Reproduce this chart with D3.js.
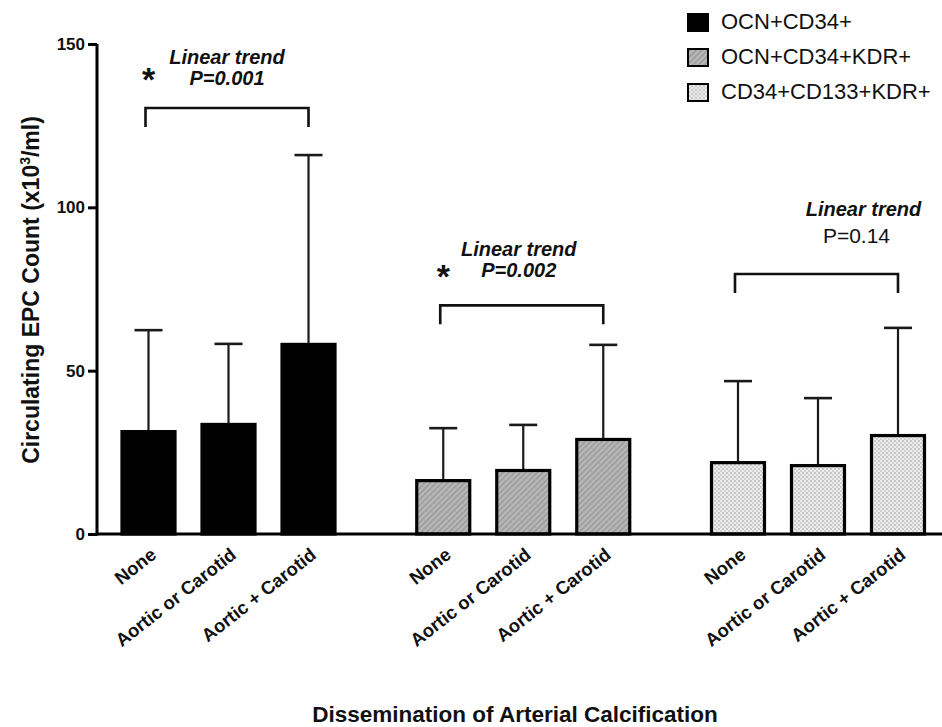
<!DOCTYPE html>
<html><head><meta charset="utf-8">
<script src="https://cdn.jsdelivr.net/npm/d3@7"></script>
<style>
body{margin:0;background:#fff;}
text{font-family:"Liberation Sans",Arial,sans-serif;}
</style></head>
<body><svg id="chart" width="942" height="727"></svg>
<script>
const groups = ["OCN+CD34+", "OCN+CD34+KDR+", "CD34+CD133+KDR+"];
const categories = ["None", "Aortic or Carotid", "Aortic + Carotid"];
const means = {
  "OCN+CD34+": [31.8, 34.0, 58.5],
  "OCN+CD34+KDR+": [16.8, 19.9, 29.4],
  "CD34+CD133+KDR+": [22.3, 21.4, 30.6]
};
const upperErr = {
  "OCN+CD34+": [62.4, 58.2, 116.0],
  "OCN+CD34+KDR+": [32.4, 33.4, 57.9],
  "CD34+CD133+KDR+": [46.8, 41.6, 63.1]
};
const yTicks = [0, 50, 100, 150];
const trendP = ["P=0.001", "P=0.002", "P=0.14"];
const trendSig = [true, true, false];
const bracketLevel = [130.4, 70.0, 79.6];

// layout (pixels) for annotation texts, separate from data
const annLayout = [
  {lt: 44, p: 23, dx: 0, pdx: 0},
  {lt: 49, p: 28, dx: -3, pdx: -3},
  {lt: 58, p: 31, dx: 47, pdx: 40}
];

const svg = d3.select("#chart");
const axisX = 97, axisY = 534, topY = 44;
const y = d3.scaleLinear().domain([0, 150]).range([axisY, topY]);
const gx = d3.scaleBand().domain(groups).range([108.5, 938]).paddingInner(0.1857).paddingOuter(0);
const cx = d3.scaleBand().domain(categories).range([0, gx.bandwidth()]).paddingInner(0.3).paddingOuter(0.15);

// patterns
const defs = svg.append("defs");
const hatch = defs.append("pattern").attr("id","hatch").attr("patternUnits","userSpaceOnUse")
  .attr("width",4).attr("height",4).attr("patternTransform","rotate(45)");
hatch.append("rect").attr("width",4).attr("height",4).attr("fill","#b8b8b8");
hatch.append("rect").attr("width",1.6).attr("height",4).attr("fill","#9a9a9a");
const dots = defs.append("pattern").attr("id","dots").attr("patternUnits","userSpaceOnUse")
  .attr("width",4).attr("height",4);
dots.append("rect").attr("width",4).attr("height",4).attr("fill","#ececec");
dots.append("circle").attr("cx",1).attr("cy",1).attr("r",0.9).attr("fill","#b5b5b5");
dots.append("circle").attr("cx",3).attr("cy",3).attr("r",0.9).attr("fill","#c4c4c4");
const fills = {"OCN+CD34+":"#000","OCN+CD34+KDR+":"url(#hatch)","CD34+CD133+KDR+":"url(#dots)"};

// bars
groups.forEach((g) => {
  const gg = svg.append("g").attr("transform", `translate(${gx(g)},0)`);
  const data = categories.map((c,i)=>({c, m: means[g][i], e: upperErr[g][i]}));
  gg.selectAll("line.err").data(data).join("line")
    .attr("x1", d=>cx(d.c)+cx.bandwidth()/2).attr("x2", d=>cx(d.c)+cx.bandwidth()/2)
    .attr("y1", d=>y(d.m)).attr("y2", d=>y(d.e)).attr("stroke","#1a1a1a").attr("stroke-width",2.2);
  gg.selectAll("line.cap").data(data).join("line")
    .attr("x1", d=>cx(d.c)+cx.bandwidth()/2-14).attr("x2", d=>cx(d.c)+cx.bandwidth()/2+14)
    .attr("y1", d=>y(d.e)).attr("y2", d=>y(d.e)).attr("stroke","#1a1a1a").attr("stroke-width",2.6);
  gg.selectAll("rect.bar").data(data).join("rect")
    .attr("x", d=>cx(d.c)+1.5).attr("width", cx.bandwidth()-3)
    .attr("y", d=>y(d.m)+1.5).attr("height", d=>y(0)-y(d.m)-1.5)
    .attr("fill", fills[g]).attr("stroke","#000").attr("stroke-width",3.2);
  gg.selectAll("text.xl").data(categories).join("text")
    .attr("transform", d=>`translate(${cx(d)+cx.bandwidth()/2+9},${axisY+23}) rotate(-38)`)
    .attr("text-anchor","end").attr("font-weight","bold").attr("font-size",18.5).attr("fill","#111")
    .text(d=>d);
});

// axes
const yAxis = d3.axisLeft(y).tickValues(yTicks).tickSize(9).tickPadding(3);
const ya = svg.append("g").attr("transform",`translate(${axisX},0)`).call(yAxis);
ya.select(".domain").attr("stroke","#000").attr("stroke-width",3).attr("d",`M0,${axisY+1.5}V${topY}`);
ya.selectAll(".tick line").attr("stroke","#000").attr("stroke-width",3);
ya.selectAll(".tick text").attr("font-size",17).attr("font-weight","bold").attr("fill","#111")
  .style("font-family","Liberation Sans, Arial, sans-serif");
svg.append("line").attr("x1",axisX-1.5).attr("x2",942).attr("y1",axisY).attr("y2",axisY)
  .attr("stroke","#000").attr("stroke-width",3);

// axis titles
svg.append("text").attr("transform",`translate(39,290) rotate(-90)`).attr("text-anchor","middle")
  .attr("font-weight","bold").attr("font-size",23).attr("fill","#111")
  .call(t=>{t.append("tspan").text("Circulating EPC Count (x10");
    t.append("tspan").attr("font-size",14).attr("dy",-9).text("3");
    t.append("tspan").attr("dy",9).text("/ml)");});
svg.append("text").attr("x",515).attr("y",722).attr("text-anchor","middle")
  .attr("font-weight","bold").attr("font-size",22.5).attr("fill","#111")
  .text("Dissemination of Arterial Calcification");

// brackets & annotations
groups.forEach((g,i)=>{
  const x1 = gx(g)+cx(categories[0])+cx.bandwidth()/2 - 3;
  const x2 = gx(g)+cx(categories[2])+cx.bandwidth()/2;
  const by = y(bracketLevel[i]);
  const L = annLayout[i];
  svg.append("path").attr("d",`M${x1},${by+19}V${by}H${x2}V${by+19}`)
    .attr("fill","none").attr("stroke","#111").attr("stroke-width",2.6);
  const mid = (x1+x2)/2;
  svg.append("text").attr("x",mid+L.dx).attr("y",by-L.lt).attr("text-anchor","middle")
    .attr("font-weight","bold").attr("font-style","italic").attr("font-size",20).attr("fill","#111")
    .text("Linear trend");
  svg.append("text").attr("x",mid+L.pdx).attr("y",by-L.p).attr("text-anchor","middle")
    .attr("font-weight", trendSig[i] ? "bold" : "normal").attr("font-style", trendSig[i] ? "italic" : "normal")
    .attr("font-size", trendSig[i] ? 20 : 21).attr("fill","#111").text(trendP[i]);
  if (trendSig[i]) {
    svg.append("text").attr("x",x1+3).attr("y",by-17).attr("text-anchor","middle")
      .attr("font-weight","bold").attr("font-size",34).attr("fill","#111").text("*");
  }
});

// legend
const lg = svg.append("g").attr("transform","translate(687,13)");
groups.forEach((g,i)=>{
  lg.append("rect").attr("x",1).attr("y",i*35+1).attr("width",20).attr("height",17)
    .attr("fill",fills[g]).attr("stroke","#000").attr("stroke-width",2);
  lg.append("text").attr("x",34).attr("y",i*35+15.5).attr("font-size",22).attr("fill","#111").text(g);
});
</script></body></html>
